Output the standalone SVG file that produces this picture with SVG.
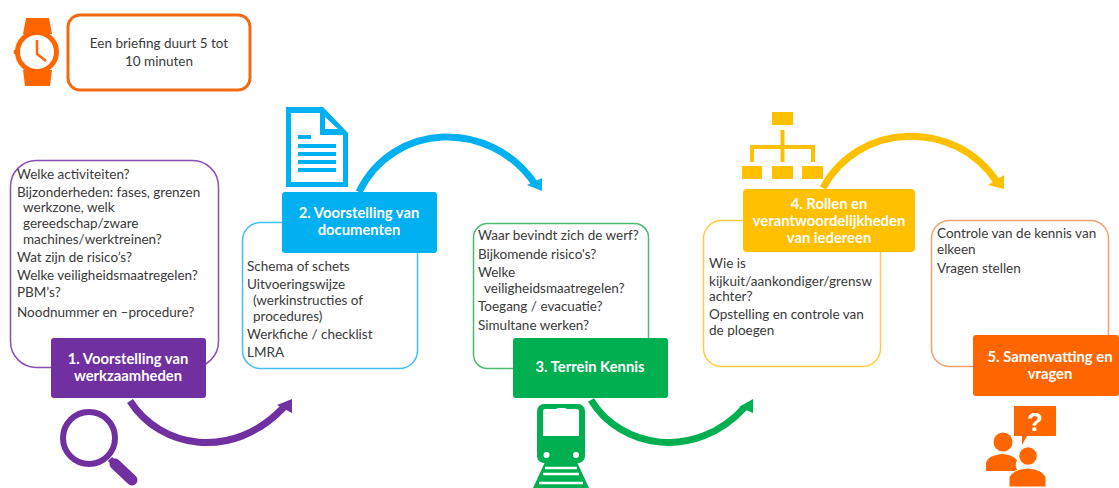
<svg xmlns="http://www.w3.org/2000/svg" width="1119" height="488" viewBox="0 0 1119 488">
<style>
text{font-family:"Lato","Liberation Sans",sans-serif;font-size:13.500px;fill:#3a3a3a}
.h{font-size:14.800px;font-weight:700;fill:#fff;text-anchor:middle}
.m{text-anchor:middle}
.o{fill:#fff;stroke-width:1.5}
.arc{fill:none;stroke-width:7}
</style>
<rect width="1119" height="488" fill="#fff"/>
<g id="connectors">
<path class="arc" stroke="#7030A0" d="M130 401C160 448 232 462 284 407"/><polygon fill="#7030A0" points="292,399 277,405 292,413"/>
<path class="arc" stroke="#00B0F0" d="M359 192C393 122 490 118 535 184"/><polygon fill="#00B0F0" points="542,191 527,185 542,178"/>
<path class="arc" stroke="#00B050" d="M591 400C620 448 695 462 745 407"/><polygon fill="#00B050" points="753,399 739,407 753,413"/>
<path class="arc" stroke="#FFC000" d="M823 188C858 122 955 118 997 182"/><polygon fill="#FFC000" points="1004,189 988,185 1004,175"/>
</g>
<g id="note">
<rect x="68" y="15" width="182" height="75" rx="12" fill="#fff" stroke="#F26A13" stroke-width="3"/>
<text class="m" x="159" y="48">Een briefing duurt 5 tot</text>
<text class="m" x="159" y="66">10 minuten</text>
<g id="watch" fill="#FF6600">
<path d="M26 18H49L52 34H23ZM23 70H52L50 86H25Z"/>
<circle cx="37" cy="52" r="19.500" fill="#fff" stroke="#FF6600" stroke-width="5"/>
<circle cx="16" cy="52" r="2.5"/>
<path d="M37 40V54L46 61" fill="none" stroke="#FF6600" stroke-width="2.5"/>
</g>
</g>
<g id="node1">
<rect class="o" x="10.500" y="160.500" width="208" height="207" rx="26" stroke="#8A4FB5"/>
<text x="17" y="179">Welke activiteiten?</text>
<text x="17" y="197">Bijzonderheden: fases, grenzen</text>
<text x="23" y="212">werkzone, welk</text>
<text x="23" y="228">gereedschap/zware</text>
<text x="23" y="244">machines/werktreinen?</text>
<text x="17" y="262">Wat zijn de risico’s?</text>
<text x="17" y="280">Welke veiligheidsmaatregelen?</text>
<text x="17" y="297">PBM’s?</text>
<text x="17" y="317">Noodnummer en –procedure?</text>
<rect x="51" y="338" width="155" height="60" rx="3" fill="#7030A0"/>
<text class="h" x="128" y="364">1. Voorstelling van</text>
<text class="h" x="128" y="381">werkzaamheden</text>
<g id="magnifier">
<circle cx="89" cy="438" r="26" fill="none" stroke="#7030A0" stroke-width="6"/>
<path d="M110 459L115 464" stroke="#7030A0" stroke-width="6"/>
<path d="M115 464L132 480" stroke="#7030A0" stroke-width="11" stroke-linecap="round"/>
</g>
</g>
<g id="node2">
<rect class="o" x="242.500" y="222.500" width="175" height="146" rx="18" stroke="#3FC1F2"/>
<text x="247" y="271">Schema of schets</text>
<text x="247" y="289">Uitvoeringswijze</text>
<text x="253" y="305">(werkinstructies of</text>
<text x="253" y="321">procedures)</text>
<text x="247" y="339">Werkfiche / checklist</text>
<text x="247" y="357">LMRA</text>
<rect x="282" y="192" width="155" height="61" rx="3" fill="#00B0F0"/>
<text class="h" x="359" y="218">2. Voorstelling van</text>
<text class="h" x="359" y="235">documenten</text>
<g id="document">
<path d="M286 107H323L348 133V187H286Z" fill="#00B0F0"/>
<path d="M291 113H320V135H343V182H291Z" fill="#fff"/>
<path d="M325 117L338 129H325Z" fill="#fff"/>
<path d="M298 137H311M298 146H336M298 154H336M298 162H336M298 170H336" stroke="#00B0F0" stroke-width="4"/>
</g>
</g>
<g id="node3">
<rect class="o" x="473.500" y="223.500" width="175" height="145" rx="14" stroke="#4CBB72"/>
<text x="478" y="240">Waar bevindt zich de werf?</text>
<text x="478" y="259">Bijkomende risico's?</text>
<text x="478" y="277">Welke</text>
<text x="484" y="293">veiligheidsmaatregelen?</text>
<text x="478" y="311">Toegang / evacuatie?</text>
<text x="478" y="330">Simultane werken?</text>
<rect x="513" y="338" width="155" height="60" rx="3" fill="#00B050"/>
<text class="h" x="590" y="372">3. Terrein Kennis</text>
<g id="train">
<path d="M533 488L545 462H577L589 488Z" fill="#00B050"/>
<path d="M545 468H577M543 474H579M539 483H583" stroke="#fff" stroke-width="2.500"/>
<rect x="537" y="404" width="48" height="59" rx="7" fill="#00B050"/>
<path d="M543 411Q543 409 546 409H556L558 408H565L567 409H576Q579 409 579 411V436H543Z" fill="#fff"/>
<circle cx="546.500" cy="455" r="3" fill="#fff"/><circle cx="576" cy="455" r="3" fill="#fff"/>
</g>
</g>
<g id="node4">
<rect class="o" x="703.500" y="220.500" width="177" height="146" rx="18" stroke="#FFCB45"/>
<text x="709" y="268">Wie is</text>
<text x="709" y="286" textLength="163">kijkuit/aankondiger/grensw</text>
<text x="709" y="301">achter?</text>
<text x="709" y="319">Opstelling en controle van</text>
<text x="709" y="335">de ploegen</text>
<rect x="743" y="189" width="172" height="63" rx="4" fill="#FFC000"/>
<text class="h" x="829" y="209">4. Rollen en</text>
<text class="h" x="829" y="226">verantwoordelijkheden</text>
<text class="h" x="829" y="243">van iedereen</text>
<g id="orgchart" fill="#FFC000">
<rect x="772" y="112" width="21" height="13"/>
<rect x="742" y="166" width="20" height="13"/><rect x="772" y="166" width="21" height="13"/><rect x="802" y="166" width="21" height="13"/>
<path d="M782.500 130V162M752 162V147H813V162" fill="none" stroke="#FFC000" stroke-width="4"/>
</g>
</g>
<g id="node5">
<rect class="o" x="931.500" y="220.500" width="177" height="146" rx="18" stroke="#F0A070"/>
<text x="937" y="238">Controle van de kennis van</text>
<text x="937" y="254">elkeen</text>
<text x="937" y="273">Vragen stellen</text>
<rect x="973" y="335" width="146" height="61" rx="3" fill="#FF6600"/>
<text class="h" x="1050" y="362">5. Samenvatting en</text>
<text class="h" x="1050" y="379">vragen</text>
<g id="people" fill="#FF6600">
<path d="M1014 406H1056V436H1027L1022 445V436H1014Z"/>
<text x="1035" y="431" style="font-size:26px;font-weight:700;fill:#fff;text-anchor:middle;font-family:'Liberation Sans',sans-serif">?</text>
<circle cx="1003" cy="442" r="9.500"/>
<path d="M986 471V463Q988 455 1003 454Q1013 455 1017 460Q1014 466 1018 471Z"/>
<circle cx="1028" cy="456" r="9.500" stroke="#fff" stroke-width="1.500"/>
<path d="M1009 487V477Q1013 469 1028 468Q1042 469 1046 477V487Z" stroke="#fff" stroke-width="1"/>
</g>
</g>
</svg>
